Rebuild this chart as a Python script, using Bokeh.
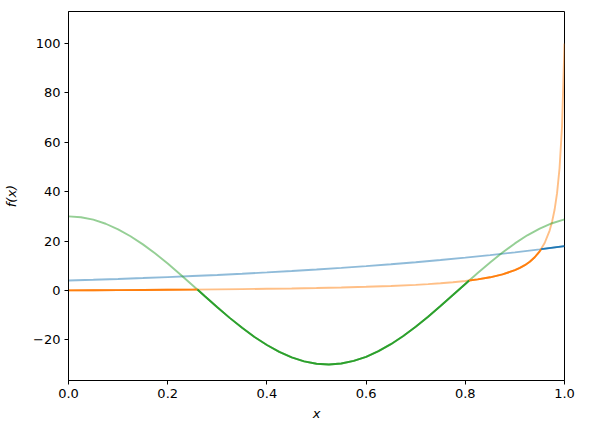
from bokeh.plotting import figure
from bokeh.models import Range1d
from bokeh.embed import file_html
from bokeh.resources import INLINE

# ---- data ----
blue_x = [0.0, 0.05, 0.1, 0.15, 0.2, 0.25, 0.3, 0.35, 0.4, 0.45, 0.5,
          0.55, 0.6, 0.65, 0.7, 0.75, 0.8, 0.85, 0.9, 0.95, 1.0]
blue_y = [4.00, 4.31, 4.65, 5.01, 5.40, 5.82, 6.27, 6.76, 7.29, 7.86, 8.47,
          9.13, 9.84, 10.60, 11.43, 12.32, 13.28, 14.31, 15.43, 16.63, 17.93]

orange_x = [0.0, 0.05, 0.1, 0.15, 0.2, 0.25, 0.3, 0.35, 0.4, 0.45, 0.5,
            0.55, 0.6, 0.65, 0.7, 0.725, 0.75, 0.775, 0.8, 0.825, 0.85,
            0.875, 0.9, 0.91, 0.92, 0.93, 0.94, 0.95, 0.96, 0.97, 0.975,
            0.98, 0.985, 0.99, 0.995, 1.0]
orange_y = [0.0, 0.05, 0.11, 0.17, 0.25, 0.33, 0.42, 0.53, 0.66, 0.80, 0.98,
            1.20, 1.46, 1.81, 2.26, 2.54, 2.88, 3.30, 3.81, 4.46, 5.31,
            6.48, 8.18, 9.10, 10.22, 11.63, 13.43, 15.83, 19.20, 24.25, 27.86,
            32.67, 39.4, 49.5, 66.3, 100.0]

green_x = [0.0, 0.025, 0.05, 0.075, 0.1, 0.125, 0.15, 0.175, 0.2, 0.225,
           0.25, 0.275, 0.3, 0.325, 0.35, 0.375, 0.4, 0.425, 0.45, 0.475,
           0.5, 0.525, 0.55, 0.575, 0.6, 0.625, 0.65, 0.675, 0.7, 0.725,
           0.75, 0.775, 0.8, 0.825, 0.85, 0.875, 0.9, 0.925, 0.95, 0.975, 1.0]
green_y = [30.0, 29.66, 28.66, 27.01, 24.76, 21.95, 18.65, 14.93, 10.87, 6.57,
           2.12, -2.37, -6.82, -11.13, -15.15, -18.85, -22.12, -24.90, -27.12, -28.73,
           -29.70, -30.00, -29.62, -28.55, -26.90, -24.62, -21.78, -18.44, -14.71, -10.65,
           -6.32, -1.87, 2.63, 7.07, 11.34, 15.36, 19.04, 22.32, 25.04, 27.22, 28.81]

# crossing points of the lower envelope (orange/green, green/orange, orange/blue)
cross_x = [0.260, 0.8077, 0.953]
cross_y = [0.35, 3.99, 16.71]

BLUE, ORANGE, GREEN = "#1f77b4", "#ff7f0e", "#2ca02c"


def segment(xs, ys, x0, y0, x1, y1):
    sx, sy = [], []
    if x0 is not None:
        sx.append(x0); sy.append(y0)
    for a, b in zip(xs, ys):
        lo = -1 if x0 is None else x0
        hi = 2 if x1 is None else x1
        if lo < a < hi or (x0 is None and a == xs[0]) or (x1 is None and a == xs[-1]):
            sx.append(a); sy.append(b)
    if x1 is not None:
        sx.append(x1); sy.append(y1)
    return sx, sy


p = figure(width=589, height=427, output_backend="svg", toolbar_location=None,
           x_range=Range1d(0, 1), y_range=Range1d(-36.5, 113),
           min_border_left=68, min_border_right=25, min_border_top=11,
           min_border_bottom=47)
p.background_fill_color = "white"
p.border_fill_color = "white"
p.outline_line_color = "black"
p.outline_line_width = 1
p.xgrid.visible = False
p.ygrid.visible = False

LW = 1.9
p.line(blue_x, blue_y, line_color=BLUE, line_alpha=0.5, line_width=LW)
p.line(orange_x, orange_y, line_color=ORANGE, line_alpha=0.5, line_width=LW)
p.line(green_x, green_y, line_color=GREEN, line_alpha=0.5, line_width=LW)

sx, sy = segment(orange_x, orange_y, None, None, cross_x[0], cross_y[0])
p.line(sx, sy, line_color=ORANGE, line_width=LW)
sx, sy = segment(green_x, green_y, cross_x[0], cross_y[0], cross_x[1], cross_y[1])
p.line(sx, sy, line_color=GREEN, line_width=LW)
sx, sy = segment(orange_x, orange_y, cross_x[1], cross_y[1], cross_x[2], cross_y[2])
p.line(sx, sy, line_color=ORANGE, line_width=LW)
sx, sy = segment(blue_x, blue_y, cross_x[2], cross_y[2], None, None)
p.line(sx, sy, line_color=BLUE, line_width=LW)

p.xaxis.ticker = [0.0, 0.2, 0.4, 0.6, 0.8, 1.0]
p.xaxis.major_label_overrides = {0.0: "0.0", 0.2: "0.2", 0.4: "0.4", 0.6: "0.6", 0.8: "0.8", 1.0: "1.0"}
p.yaxis.ticker = [-20, 0, 20, 40, 60, 80, 100]
p.yaxis.major_label_overrides = {-20: "\u221220"}
p.xaxis.axis_label = "x"
p.yaxis.axis_label = "f(x)"

for ax in (p.xaxis, p.yaxis):
    ax.axis_line_color = "black"
    ax.axis_line_width = 1
    ax.major_tick_line_color = "black"
    ax.major_tick_in = 0
    ax.major_tick_out = 4
    ax.minor_tick_line_color = None
    ax.major_label_text_font = "DejaVu Sans"
    ax.major_label_text_font_size = "13px"
    ax.major_label_text_color = "black"
    ax.major_label_standoff = 4
    ax.axis_label_text_font = "DejaVu Sans"
    ax.axis_label_text_font_size = "13px"
    ax.axis_label_text_font_style = "italic"
    ax.axis_label_text_color = "black"

p.xaxis.axis_label_standoff = 5
p.yaxis.axis_label_standoff = 11

open("out.html", "w").write(file_html(p, INLINE))
